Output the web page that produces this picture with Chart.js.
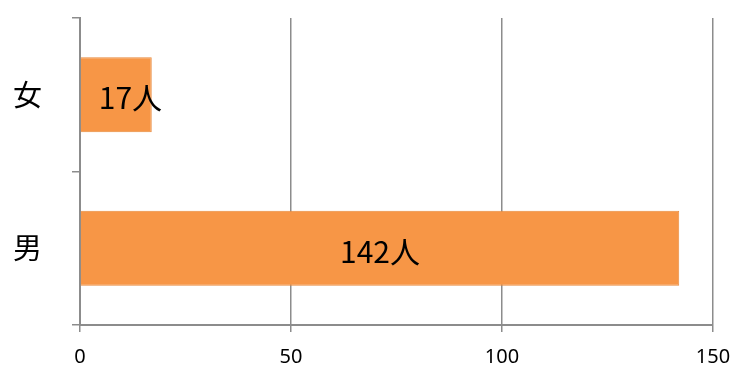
<!DOCTYPE html>
<html>
<head>
    <title>男女別人数</title>
    <script src="https://cdn.jsdelivr.net/npm/chart.js"></script>
    <style>
        body { margin: 0; background: #fff; }
        #wrap { width: 738px; height: 367px; }
    </style>
</head>
<body>
    <div id="wrap"><canvas id="genderChart" width="738" height="367"></canvas></div>

    <script>
        // data
        const categories = ['女', '男'];
        const counts = [17, 142];
        const countLabels = ['17人', '142人'];
        const xTicks = [0, 50, 100, 150];

        const numFont = '"Noto Sans", "Liberation Sans", sans-serif';
        const cjkFont = '"Noto Sans CJK JP", "Noto Sans", sans-serif';

        // write "N人" in the middle of each bar (kept clear of the axis for short bars)
        const barLabels = {
            id: 'barLabels',
            afterDatasetsDraw(chart) {
                const ctx = chart.ctx;
                const meta = chart.getDatasetMeta(0);
                ctx.save();
                ctx.fillStyle = '#000';
                ctx.font = '30px ' + cjkFont;
                ctx.textAlign = 'center';
                ctx.textBaseline = 'middle';
                meta.data.forEach((bar, i) => {
                    const w = ctx.measureText(countLabels[i]).width;
                    const cx = Math.max((bar.x + bar.base) / 2, bar.base + 18 + w / 2);
                    ctx.fillText(countLabels[i], cx, bar.y + 3);
                });
                ctx.restore();
            }
        };

        const ctx = document.getElementById('genderChart').getContext('2d');
        new Chart(ctx, {
            type: 'bar',
            data: {
                labels: categories,
                datasets: [{
                    data: counts,
                    backgroundColor: '#F79646',
                    borderColor: '#E8893C',
                    borderWidth: 1,
                    categoryPercentage: 1,
                    barPercentage: 0.49
                }]
            },
            plugins: [barLabels],
            options: {
                indexAxis: 'y',
                responsive: false,
                animation: false,
                layout: { padding: { top: 18, right: 25, left: 0, bottom: 0 } },
                plugins: {
                    legend: { display: false },
                    tooltip: { enabled: false }
                },
                scales: {
                    x: {
                        min: 0,
                        max: 150,
                        afterBuildTicks(axis) {
                            axis.ticks = xTicks.map(v => ({ value: v }));
                        },
                        afterFit(axis) {
                            axis.height = 42;
                            axis.paddingLeft = 0;
                            axis.paddingRight = 0;
                        },
                        grid: {
                            color: '#8c8c8c',
                            lineWidth: 1.5,
                            tickLength: 7,
                            tickColor: '#8c8c8c'
                        },
                        border: { color: '#8c8c8c', width: 2 },
                        ticks: {
                            color: '#000',
                            font: { size: 20, family: numFont },
                            padding: 13
                        }
                    },
                    y: {
                        offset: true,
                        afterFit(axis) {
                            axis.width = 80;
                            axis.paddingTop = 0;
                            axis.paddingBottom = 0;
                        },
                        grid: {
                            offset: true,
                            drawOnChartArea: false,
                            tickLength: 8,
                            tickColor: '#8c8c8c',
                            lineWidth: 1.5
                        },
                        border: { color: '#8c8c8c', width: 2 },
                        ticks: {
                            color: '#000',
                            font: { size: 29, family: cjkFont },
                            padding: 30
                        }
                    }
                }
            }
        });
    </script>
</body>
</html>
